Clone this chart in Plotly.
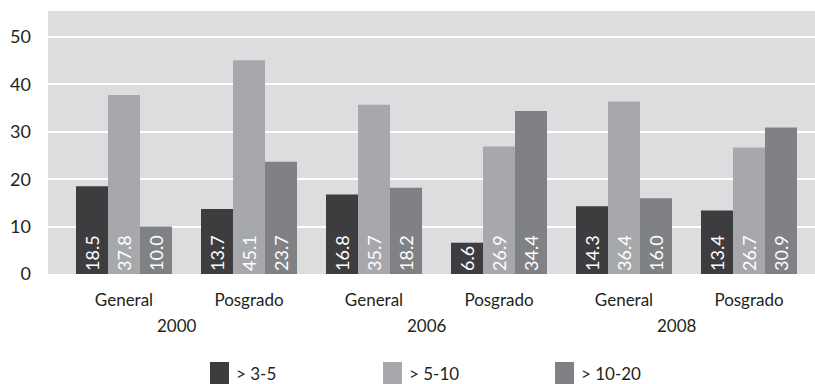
import plotly.graph_objects as go

# Data
groups = ["General", "Posgrado", "General", "Posgrado", "General", "Posgrado"]
years = ["2000", "2006", "2008"]
series_names = ["> 3-5", "> 5-10", "> 10-20"]
s_3_5 = [18.5, 13.7, 16.8, 6.6, 14.3, 13.4]
s_5_10 = [37.8, 45.1, 35.7, 26.9, 36.4, 26.7]
s_10_20 = [10.0, 23.7, 18.2, 34.4, 16.0, 30.9]
y_ticks = [0, 10, 20, 30, 40, 50]

colors = ["#3d3d3f", "#a7a8ab", "#808184"]
FONT = "Lato, Open Sans, sans-serif"
TEXT = "#231f20"

W, H = 815, 384
ML, MR, MT, MB = 48, 0, 11, 110
PW, PH = W - ML - MR, H - MT - MB

x = list(range(len(groups)))

fig = go.Figure()
for name, vals, col in zip(series_names, [s_3_5, s_5_10, s_10_20], colors):
    fig.add_trace(go.Bar(
        x=x, y=vals, name=name, marker=dict(color=col, line=dict(width=0)),
        texttemplate="%{y:.1f}", textposition="inside", insidetextanchor="start",
        textangle=-90, constraintext="none",
        textfont=dict(color="white", size=18, family=FONT),
        showlegend=False, hoverinfo="skip",
    ))

def px_x(p):
    return (p - ML) / PW

def px_y(p):
    return (MT + PH - p) / PH

# Year labels under each pair of groups
for i, yr in enumerate(years):
    fig.add_annotation(x=2 * i + 0.5, y=px_y(325), xref="x", yref="paper",
                       text=yr, showarrow=False, xshift=-10, yanchor="middle",
                       font=dict(size=17, family=FONT, color=TEXT))

# Legend drawn as swatches with labels
leg_x = [210, 383, 555]
for name, col, lx in zip(series_names, colors, leg_x):
    fig.add_shape(type="rect", xref="paper", yref="paper",
                  x0=px_x(lx), x1=px_x(lx + 19), y0=px_y(362), y1=px_y(386),
                  fillcolor=col, line=dict(width=0))
    fig.add_annotation(x=px_x(lx + 24), y=px_y(373), xref="paper", yref="paper",
                       text=name, showarrow=False, xanchor="left", yanchor="middle",
                       font=dict(size=17, family=FONT, color=TEXT))

fig.update_layout(
    width=W, height=H,
    margin=dict(l=ML, r=MR, t=MT, b=MB),
    paper_bgcolor="white", plot_bgcolor="#dcdddf",
    barmode="group", bargap=0.232, bargroupgap=0,
    font=dict(family=FONT, color=TEXT, size=16),
    xaxis=dict(tickvals=x, ticktext=groups, range=[-0.608, 5.528],
               showgrid=False, zeroline=False, showline=False, ticks="",
               ticklabelstandoff=14,
               tickfont=dict(size=17, family=FONT, color=TEXT)),
    yaxis=dict(tickvals=y_ticks, range=[0, 55.5], showgrid=True,
               gridcolor="white", gridwidth=2, zeroline=False, showline=False,
               ticks="", ticklabelstandoff=16,
               tickfont=dict(size=18, family=FONT, color=TEXT)),
)

fig.write_html("out.html")
